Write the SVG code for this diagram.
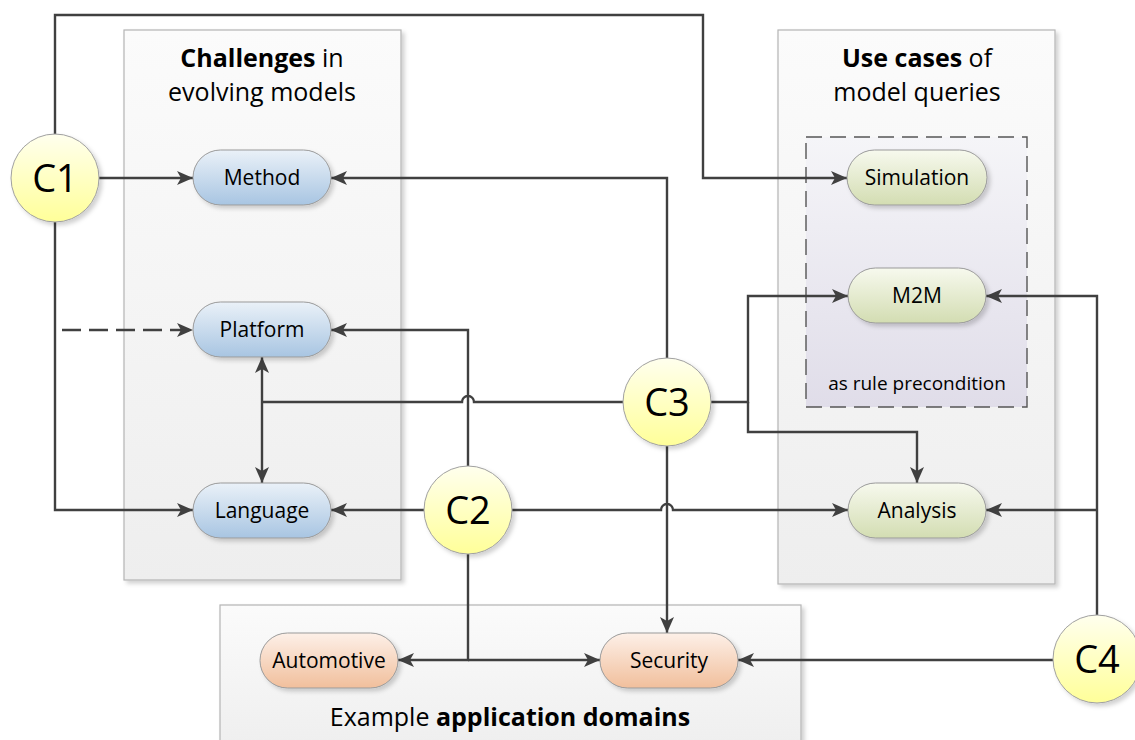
<svg xmlns="http://www.w3.org/2000/svg" width="1135" height="740" viewBox="0 0 1135 740">
<defs>
<linearGradient id="gBox" x1="0" y1="0" x2="0" y2="1"><stop offset="0" stop-color="#fbfbfb"/><stop offset="1" stop-color="#eeeeee"/></linearGradient>
<linearGradient id="gDash" x1="0" y1="0" x2="0" y2="1"><stop offset="0" stop-color="#f5f5f8"/><stop offset="1" stop-color="#e0dde9"/></linearGradient>
<linearGradient id="gBlue" x1="0" y1="0" x2="0" y2="1"><stop offset="0" stop-color="#eaf1f8"/><stop offset="1" stop-color="#a8c5e2"/></linearGradient>
<linearGradient id="gGreen" x1="0" y1="0" x2="0" y2="1"><stop offset="0" stop-color="#f7f9ee"/><stop offset="1" stop-color="#d3ddb2"/></linearGradient>
<linearGradient id="gOrange" x1="0" y1="0" x2="0" y2="1"><stop offset="0" stop-color="#fdf0e8"/><stop offset="1" stop-color="#f1bf9c"/></linearGradient>
<linearGradient id="gYellow" x1="0" y1="0" x2="0" y2="1"><stop offset="0" stop-color="#ffffee"/><stop offset="1" stop-color="#ffff99"/></linearGradient>
<filter id="sh" x="-20%" y="-20%" width="150%" height="150%"><feDropShadow dx="3" dy="3" stdDeviation="2" flood-color="#000" flood-opacity="0.18"/></filter>
<marker id="ar" viewBox="0 0 16 14" refX="16" refY="7" markerWidth="16" markerHeight="14" markerUnits="userSpaceOnUse" orient="auto-start-reverse"><path d="M0,0 L16,7 L0,14 L4,7 Z" fill="#404040"/></marker>
<style>
.box{fill:url(#gBox);stroke:#b4b4b4;stroke-width:1.2;filter:url(#sh)}
.pill{stroke:#9a9a9a;stroke-width:1;filter:url(#sh)}
.circ{fill:url(#gYellow);stroke:#a0a0a0;stroke-width:1;filter:url(#sh)}
.ln{fill:none;stroke:#404040;stroke-width:2.4}
.t{font-family:"Open Sans","Liberation Sans",sans-serif;fill:#000}
.lbl{font-size:21px;text-anchor:middle}
.cl{font-size:38px;text-anchor:middle}
.hd{font-size:25px;text-anchor:middle}
</style>
</defs>

<g id="containers">
<rect id="challenges-box" class="box" x="124" y="30" width="277" height="550"/>
<rect id="usecases-box" class="box" x="778" y="30" width="277" height="554"/>
<rect id="domains-box" class="box" x="220" y="605" width="581" height="150"/>
<rect id="rule-box" x="806" y="137" width="221" height="270" fill="url(#gDash)" stroke="#555" stroke-width="1.4" stroke-dasharray="16,8"/>
<text class="t hd" x="262" y="67"><tspan font-weight="bold">Challenges</tspan> in</text>
<text class="t hd" x="262" y="101">evolving models</text>
<text class="t hd" x="917" y="67"><tspan font-weight="bold">Use cases</tspan> of</text>
<text class="t hd" x="917" y="101">model queries</text>
<text class="t" x="917" y="390" font-size="19" text-anchor="middle">as rule precondition</text>
<text class="t hd" x="510" y="726">Example <tspan font-weight="bold">application domains</tspan></text>
</g>

<g id="connectors">
<path class="ln" d="M55,135 V15 H703 V178 H847" marker-end="url(#ar)"/>
<path class="ln" d="M99,178 H193" marker-end="url(#ar)"/>
<path class="ln" d="M55,222 V510 H193" marker-end="url(#ar)"/>
<path class="ln" d="M62,330 H193" stroke-dasharray="19,8" marker-end="url(#ar)"/>
<path class="ln" d="M667,358 V178 H331" marker-end="url(#ar)"/>
<path class="ln" d="M468,466 V330 H331" marker-end="url(#ar)"/>
<path class="ln" d="M623,402 H474 A6,6 0 0 0 462,402 H262"/>
<path class="ln" d="M262,357 V483" marker-start="url(#ar)" marker-end="url(#ar)"/>
<path class="ln" d="M424,510 H331" marker-end="url(#ar)"/>
<path class="ln" d="M512,510 H661 A6,6 0 0 1 673,510 H848" marker-end="url(#ar)"/>
<path class="ln" d="M667,446 V633" marker-end="url(#ar)"/>
<path class="ln" d="M711,402 H748 V296 H848" marker-end="url(#ar)"/>
<path class="ln" d="M748,402 V432 H917 V483" marker-end="url(#ar)"/>
<path class="ln" d="M468,554 V660 H398" marker-end="url(#ar)"/>
<path class="ln" d="M468,660 H600" marker-end="url(#ar)"/>
<path class="ln" d="M1053,660 H738" marker-end="url(#ar)"/>
<path class="ln" d="M1097,615 V296 H986" marker-end="url(#ar)"/>
<path class="ln" d="M1097,510 H986" marker-end="url(#ar)"/>
</g>

<g id="method"><rect class="pill" x="193" y="150" width="138" height="55" rx="27.5" fill="url(#gBlue)"/><text class="t lbl" x="262" y="185">Method</text></g>
<g id="platform"><rect class="pill" x="193" y="302" width="138" height="55" rx="27.5" fill="url(#gBlue)"/><text class="t lbl" x="262" y="337">Platform</text></g>
<g id="language"><rect class="pill" x="193" y="483" width="138" height="55" rx="27.5" fill="url(#gBlue)"/><text class="t lbl" x="262" y="518">Language</text></g>
<g id="simulation"><rect class="pill" x="847" y="150" width="140" height="55" rx="27.5" fill="url(#gGreen)"/><text class="t lbl" x="917" y="185">Simulation</text></g>
<g id="m2m"><rect class="pill" x="848" y="268" width="138" height="55" rx="27.5" fill="url(#gGreen)"/><text class="t lbl" x="917" y="303">M2M</text></g>
<g id="analysis"><rect class="pill" x="848" y="483" width="138" height="55" rx="27.5" fill="url(#gGreen)"/><text class="t lbl" x="917" y="518">Analysis</text></g>
<g id="automotive"><rect class="pill" x="260" y="633" width="138" height="55" rx="27.5" fill="url(#gOrange)"/><text class="t lbl" x="329" y="668">Automotive</text></g>
<g id="security"><rect class="pill" x="600" y="633" width="138" height="55" rx="27.5" fill="url(#gOrange)"/><text class="t lbl" x="669" y="668">Security</text></g>

<g id="c1"><circle class="circ" cx="55" cy="178" r="44"/><text class="t cl" x="55" y="192">C1</text></g>
<g id="c2"><circle class="circ" cx="468" cy="510" r="44"/><text class="t cl" x="468" y="524">C2</text></g>
<g id="c3"><circle class="circ" cx="667" cy="402" r="44"/><text class="t cl" x="667" y="416">C3</text></g>
<g id="c4"><circle class="circ" cx="1097" cy="659" r="44"/><text class="t cl" x="1097" y="673">C4</text></g>
</svg>
